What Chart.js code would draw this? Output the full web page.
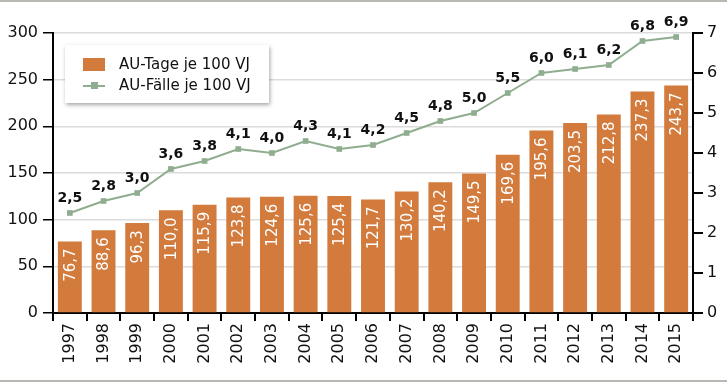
<!DOCTYPE html>
<html><head><meta charset="utf-8">
<script src="https://cdn.jsdelivr.net/npm/chart.js@4.4.0/dist/chart.umd.min.js"></script>
<style>
html,body{margin:0;padding:0;background:#fff;}
#wrap{position:relative;width:727px;height:383px;}
#legend{position:absolute;left:65px;top:45px;width:204px;height:58px;background:#fff;box-shadow:1px 2px 4px rgba(0,0,0,0.35);font-family:"DejaVu Sans",sans-serif;font-size:15px;color:#111;}
.row{position:absolute;left:18px;display:flex;align-items:center;}
.sw{width:22px;height:13px;background:#D27B3D;margin-right:14px;}
.ln{width:22px;height:13px;margin-right:14px;position:relative;}
.ln:before{content:"";position:absolute;left:0;right:0;top:6px;height:2px;background:#8FAD8F;}
.ln:after{content:"";position:absolute;left:8px;top:3px;width:7px;height:7px;background:#8FAD8F;}
</style></head><body>
<div id="wrap"><canvas id="c" width="727" height="383"></canvas>
<div id="legend">
<div class="row" style="top:10px"><div class="sw"></div>AU-Tage je 100 VJ</div>
<div class="row" style="top:31px"><div class="ln"></div>AU-Fälle je 100 VJ</div>
</div></div>
<script>
const years = ["1997","1998","1999","2000","2001","2002","2003","2004","2005","2006","2007","2008","2009","2010","2011","2012","2013","2014","2015"];
const auTage = [76.7,88.6,96.3,110.0,115.9,123.8,124.6,125.6,125.4,121.7,130.2,140.2,149.5,169.6,195.6,203.5,212.8,237.3,243.7];
const auFaelle = [2.5,2.8,3.0,3.6,3.8,4.1,4.0,4.3,4.1,4.2,4.5,4.8,5.0,5.5,6.0,6.1,6.2,6.8,6.9];
const leftTicks = [0,50,100,150,200,250,300];
const rightTicks = [0,1,2,3,4,5,6,7];

const FONT = '"DejaVu Sans", sans-serif';
const fmt = v => v.toFixed(1).replace('.', ',');

const labelsPlugin = {
  id: 'labels',
  afterDatasetsDraw(chart) {
    const ctx = chart.ctx;
    const barMeta = chart.getDatasetMeta(1);
    ctx.save();
    ctx.fillStyle = '#fff';
    ctx.font = '15px ' + FONT;
    barMeta.data.forEach((el, i) => {
      ctx.save();
      ctx.translate(el.x, el.y + 7);
      ctx.rotate(-Math.PI / 2);
      ctx.textAlign = 'right';
      ctx.textBaseline = 'middle';
      ctx.fillText(fmt(auTage[i]), 0, 1);
      ctx.restore();
    });
    const lineMeta = chart.getDatasetMeta(0);
    ctx.fillStyle = '#111';
    ctx.font = 'bold 14px ' + FONT;
    ctx.textAlign = 'center';
    ctx.textBaseline = 'bottom';
    lineMeta.data.forEach((el, i) => {
      ctx.fillText(fmt(auFaelle[i]), el.x, el.y - 8);
    });
    ctx.restore();
  },
  afterDraw(chart) {
    const ctx = chart.ctx;
    ctx.save();
    ctx.fillStyle = '#b9b9b4';
    ctx.fillRect(0, 0, 727, 2);
    ctx.fillRect(0, 380, 727, 2);
    ctx.restore();
  }
};

new Chart(document.getElementById('c'), {
  data: {
    labels: years,
    datasets: [
      { type: 'line', data: auFaelle, yAxisID: 'y2', borderColor: '#8FAD8F', backgroundColor: '#8FAD8F', borderWidth: 2, pointStyle: 'rect', pointRadius: 4, pointBorderWidth: 0, tension: 0, order: 0 },
      { type: 'bar', data: auTage, yAxisID: 'y', backgroundColor: '#D27B3D', barPercentage: 0.71, categoryPercentage: 1, order: 1 }
    ]
  },
  options: {
    responsive: false, animation: false,
    layout: { padding: { top: 33, left: 0, right: 0, bottom: 0 } },
    plugins: { legend: { display: false }, tooltip: { enabled: false } },
    scales: {
      x: {
        offset: true,
        grid: { offset: true, drawOnChartArea: false, tickLength: 8, tickColor: '#000', lineWidth: 2 },
        border: { color: '#000', width: 2 },
        ticks: { minRotation: 90, maxRotation: 90, color: '#111', font: { family: FONT, size: 16 }, padding: 2 },
        afterFit(s) { s.height = 70; }
      },
      y: {
        position: 'left', min: 0, max: 300,
        afterBuildTicks(s) { s.ticks = leftTicks.map(v => ({ value: v })); },
        grid: { color: '#dcdcdc', lineWidth: 1.5, tickLength: 10, tickColor: '#000' },
        border: { color: '#000', width: 2 },
        ticks: { color: '#111', font: { family: FONT, size: 16 }, padding: 5 },
        afterFit(s) { s.width = 53; }
      },
      y2: {
        position: 'right', min: 0, max: 7,
        afterBuildTicks(s) { s.ticks = rightTicks.map(v => ({ value: v })); },
        grid: { drawOnChartArea: false, tickLength: 10, tickColor: '#000', lineWidth: 2 },
        border: { color: '#000', width: 2 },
        ticks: { color: '#111', font: { family: FONT, size: 16 }, padding: 4 },
        afterFit(s) { s.width = 34; }
      }
    }
  },
  plugins: [labelsPlugin]
});
</script></body></html>
